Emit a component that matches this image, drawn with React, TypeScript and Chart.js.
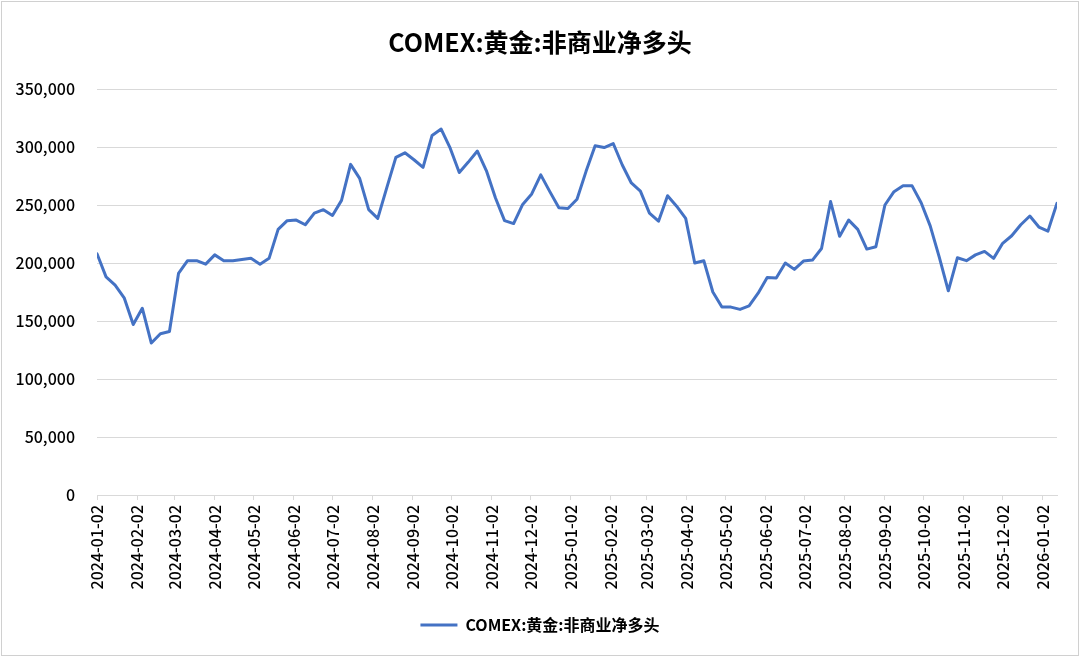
import React, { useEffect, useRef } from 'react';
import { Chart, registerables } from 'chart.js';

Chart.register(...registerables);

const chartTitle = 'COMEX:黄金:非商业净多头';
const seriesName = 'COMEX:黄金:非商业净多头';

const dates: string[] = [
  '2024-01-02', '2024-01-09', '2024-01-16', '2024-01-23', '2024-01-30', '2024-02-06', '2024-02-13', '2024-02-20',
  '2024-02-27', '2024-03-05', '2024-03-12', '2024-03-19', '2024-03-26', '2024-04-02', '2024-04-09', '2024-04-16',
  '2024-04-23', '2024-04-30', '2024-05-07', '2024-05-14', '2024-05-21', '2024-05-28', '2024-06-04', '2024-06-11',
  '2024-06-18', '2024-06-25', '2024-07-02', '2024-07-09', '2024-07-16', '2024-07-23', '2024-07-30', '2024-08-06',
  '2024-08-13', '2024-08-20', '2024-08-27', '2024-09-03', '2024-09-10', '2024-09-17', '2024-09-24', '2024-10-01',
  '2024-10-08', '2024-10-15', '2024-10-22', '2024-10-29', '2024-11-05', '2024-11-12', '2024-11-19', '2024-11-26',
  '2024-12-03', '2024-12-10', '2024-12-17', '2024-12-24', '2024-12-31',
  '2025-01-07', '2025-01-14', '2025-01-21', '2025-01-28', '2025-02-04', '2025-02-11', '2025-02-18', '2025-02-25',
  '2025-03-04', '2025-03-11', '2025-03-18', '2025-03-25', '2025-04-01', '2025-04-08', '2025-04-15', '2025-04-22',
  '2025-04-29', '2025-05-06', '2025-05-13', '2025-05-20', '2025-05-27', '2025-06-03', '2025-06-10', '2025-06-17',
  '2025-06-24', '2025-07-01', '2025-07-08', '2025-07-15', '2025-07-22', '2025-07-29', '2025-08-05', '2025-08-12',
  '2025-08-19', '2025-08-26', '2025-09-02', '2025-09-09', '2025-09-16', '2025-09-23', '2025-09-30', '2025-10-07',
  '2025-10-14', '2025-10-21', '2025-10-28', '2025-11-04', '2025-11-11', '2025-11-18', '2025-11-25', '2025-12-02',
  '2025-12-09', '2025-12-16', '2025-12-23', '2025-12-30',
  '2026-01-06', '2026-01-13',
];

const netLong: number[] = [
  208000, 188000, 181000, 170000, 147000, 161000, 131000, 139000,
  141000, 191000, 202000, 202000, 199000, 207000, 202000, 202000,
  203000, 204000, 199000, 204000, 229000, 236500, 237000, 233000,
  243000, 246000, 241000, 254000, 285000, 273000, 246000, 238500,
  265000, 291000, 295000, 289000, 282500, 310000, 315500, 299000,
  278000, 287000, 296500, 279500, 256000, 236500, 234000, 250500,
  259500, 276000, 261500, 247700, 247000,
  255000, 279000, 301000, 299500, 303000, 284500, 269000, 262000,
  243000, 236000, 258000, 249000, 238500, 200000, 202000, 175000,
  162000, 162000, 160000, 163000, 174000, 187500, 187000, 200000,
  194500, 201700, 202500, 212500, 253000, 223000, 237000, 229000,
  212000, 214000, 250000, 261500, 266500, 266500, 252000, 232000,
  205000, 176000, 204500, 202000, 207000, 210000, 204000, 217000,
  223500, 233000, 240500, 231000,
  227500, 251500,
];

const xTickLabels: string[] = [
  '2024-01-02', '2024-02-02', '2024-03-02', '2024-04-02', '2024-05-02', '2024-06-02', '2024-07-02',
  '2024-08-02', '2024-09-02', '2024-10-02', '2024-11-02', '2024-12-02', '2025-01-02', '2025-02-02',
  '2025-03-02', '2025-04-02', '2025-05-02', '2025-06-02', '2025-07-02', '2025-08-02', '2025-09-02',
  '2025-10-02', '2025-11-02', '2025-12-02', '2026-01-02',
];

const yTickValues: number[] = [0, 50000, 100000, 150000, 200000, 250000, 300000, 350000];

const FONT = '"Noto Sans CJK SC", "Noto Sans", sans-serif';
const TEXT = '#000000';
const LINE = '#4472C4';
const GRID = '#d9d9d9';

const dayOf = (s: string) => Math.round(Date.parse(s + 'T00:00:00Z') / 86400000);

export default function App() {
  const ref = useRef<HTMLCanvasElement | null>(null);

  useEffect(() => {
    document.body.style.margin = '0';
    const canvas = ref.current;
    if (!canvas) return;
    const tickLabelByDay = new Map<number, string>();
    xTickLabels.forEach((s) => tickLabelByDay.set(dayOf(s), s));

    const chart = new Chart(canvas, {
      type: 'line',
      data: {
        datasets: [
          {
            label: seriesName,
            data: dates.map((d, i) => ({ x: dayOf(d), y: netLong[i] })),
            borderColor: LINE,
            backgroundColor: LINE,
            borderWidth: 3,
            pointRadius: 0,
            pointHoverRadius: 0,
            tension: 0,
            borderJoinStyle: 'round',
            borderCapStyle: 'round',
          },
        ],
      },
      options: {
        responsive: false,
        animation: false,
        layout: { padding: { left: 0, right: 0, top: 0, bottom: 14 } },
        plugins: {
          title: {
            display: true,
            text: chartTitle,
            color: TEXT,
            font: { family: FONT, size: 25, weight: 'bold' },
            padding: { top: 27, bottom: 32 },
          },
          legend: {
            display: true,
            position: 'bottom',
            labels: {
              color: TEXT,
              font: { family: FONT, size: 16, weight: 'bold' },
              boxWidth: 37,
              boxHeight: 3,
              padding: 10,
              generateLabels: () => [
                {
                  text: seriesName,
                  fillStyle: LINE,
                  strokeStyle: LINE,
                  lineWidth: 0,
                  hidden: false,
                  datasetIndex: 0,
                  fontColor: TEXT,
                },
              ],
            },
          },
          tooltip: { enabled: false },
        },
        scales: {
          x: {
            type: 'linear',
            min: dayOf(dates[0]),
            max: dayOf(dates[dates.length - 1]),
            afterBuildTicks: (scale: any) => {
              scale.ticks = xTickLabels.map((s) => ({ value: dayOf(s) }));
            },
            afterFit: (scale: any) => {
              scale.height = 112;
            },
            ticks: {
              autoSkip: false,
              maxRotation: 90,
              minRotation: 90,
              padding: 5,
              color: TEXT,
              font: { family: FONT, size: 16, weight: 500 },
              callback: (v: any) => tickLabelByDay.get(Number(v)) ?? '',
            },
            grid: {
              display: true,
              drawOnChartArea: false,
              drawTicks: true,
              tickLength: 5,
              color: GRID,
            },
            border: { display: true, color: GRID, width: 1 },
          },
          y: {
            type: 'linear',
            position: 'left',
            min: 0,
            max: 350000,
            afterBuildTicks: (scale: any) => {
              scale.ticks = yTickValues.map((v) => ({ value: v }));
            },
            afterFit: (scale: any) => {
              scale.width = 97;
            },
            ticks: {
              padding: 22,
              color: TEXT,
              font: { family: FONT, size: 16, weight: 500 },
              callback: (v: any) => Number(v).toLocaleString('en-US'),
            },
            grid: { color: GRID, drawTicks: false, lineWidth: 1 },
            border: { display: false },
          },
          rightGap: {
            type: 'linear',
            position: 'right',
            display: true,
            min: 0,
            max: 350000,
            afterFit: (scale: any) => {
              scale.width = 23;
            },
            ticks: { display: false },
            grid: { display: false, drawTicks: false },
            border: { display: false },
          },
        },
      },
    } as any);

    return () => chart.destroy();
  }, []);

  return (
    <div style={{ position: 'fixed', left: 0, top: 0, width: 1080, height: 657, background: '#fff' }}>
      <canvas ref={ref} width={1080} height={657} style={{ display: 'block', width: 1080, height: 657 }} />
      <div
        style={{
          position: 'absolute',
          left: 1,
          top: 1,
          width: 1076,
          height: 653,
          border: '1px solid #d0d0d0',
          pointerEvents: 'none',
        }}
      />
    </div>
  );
}
